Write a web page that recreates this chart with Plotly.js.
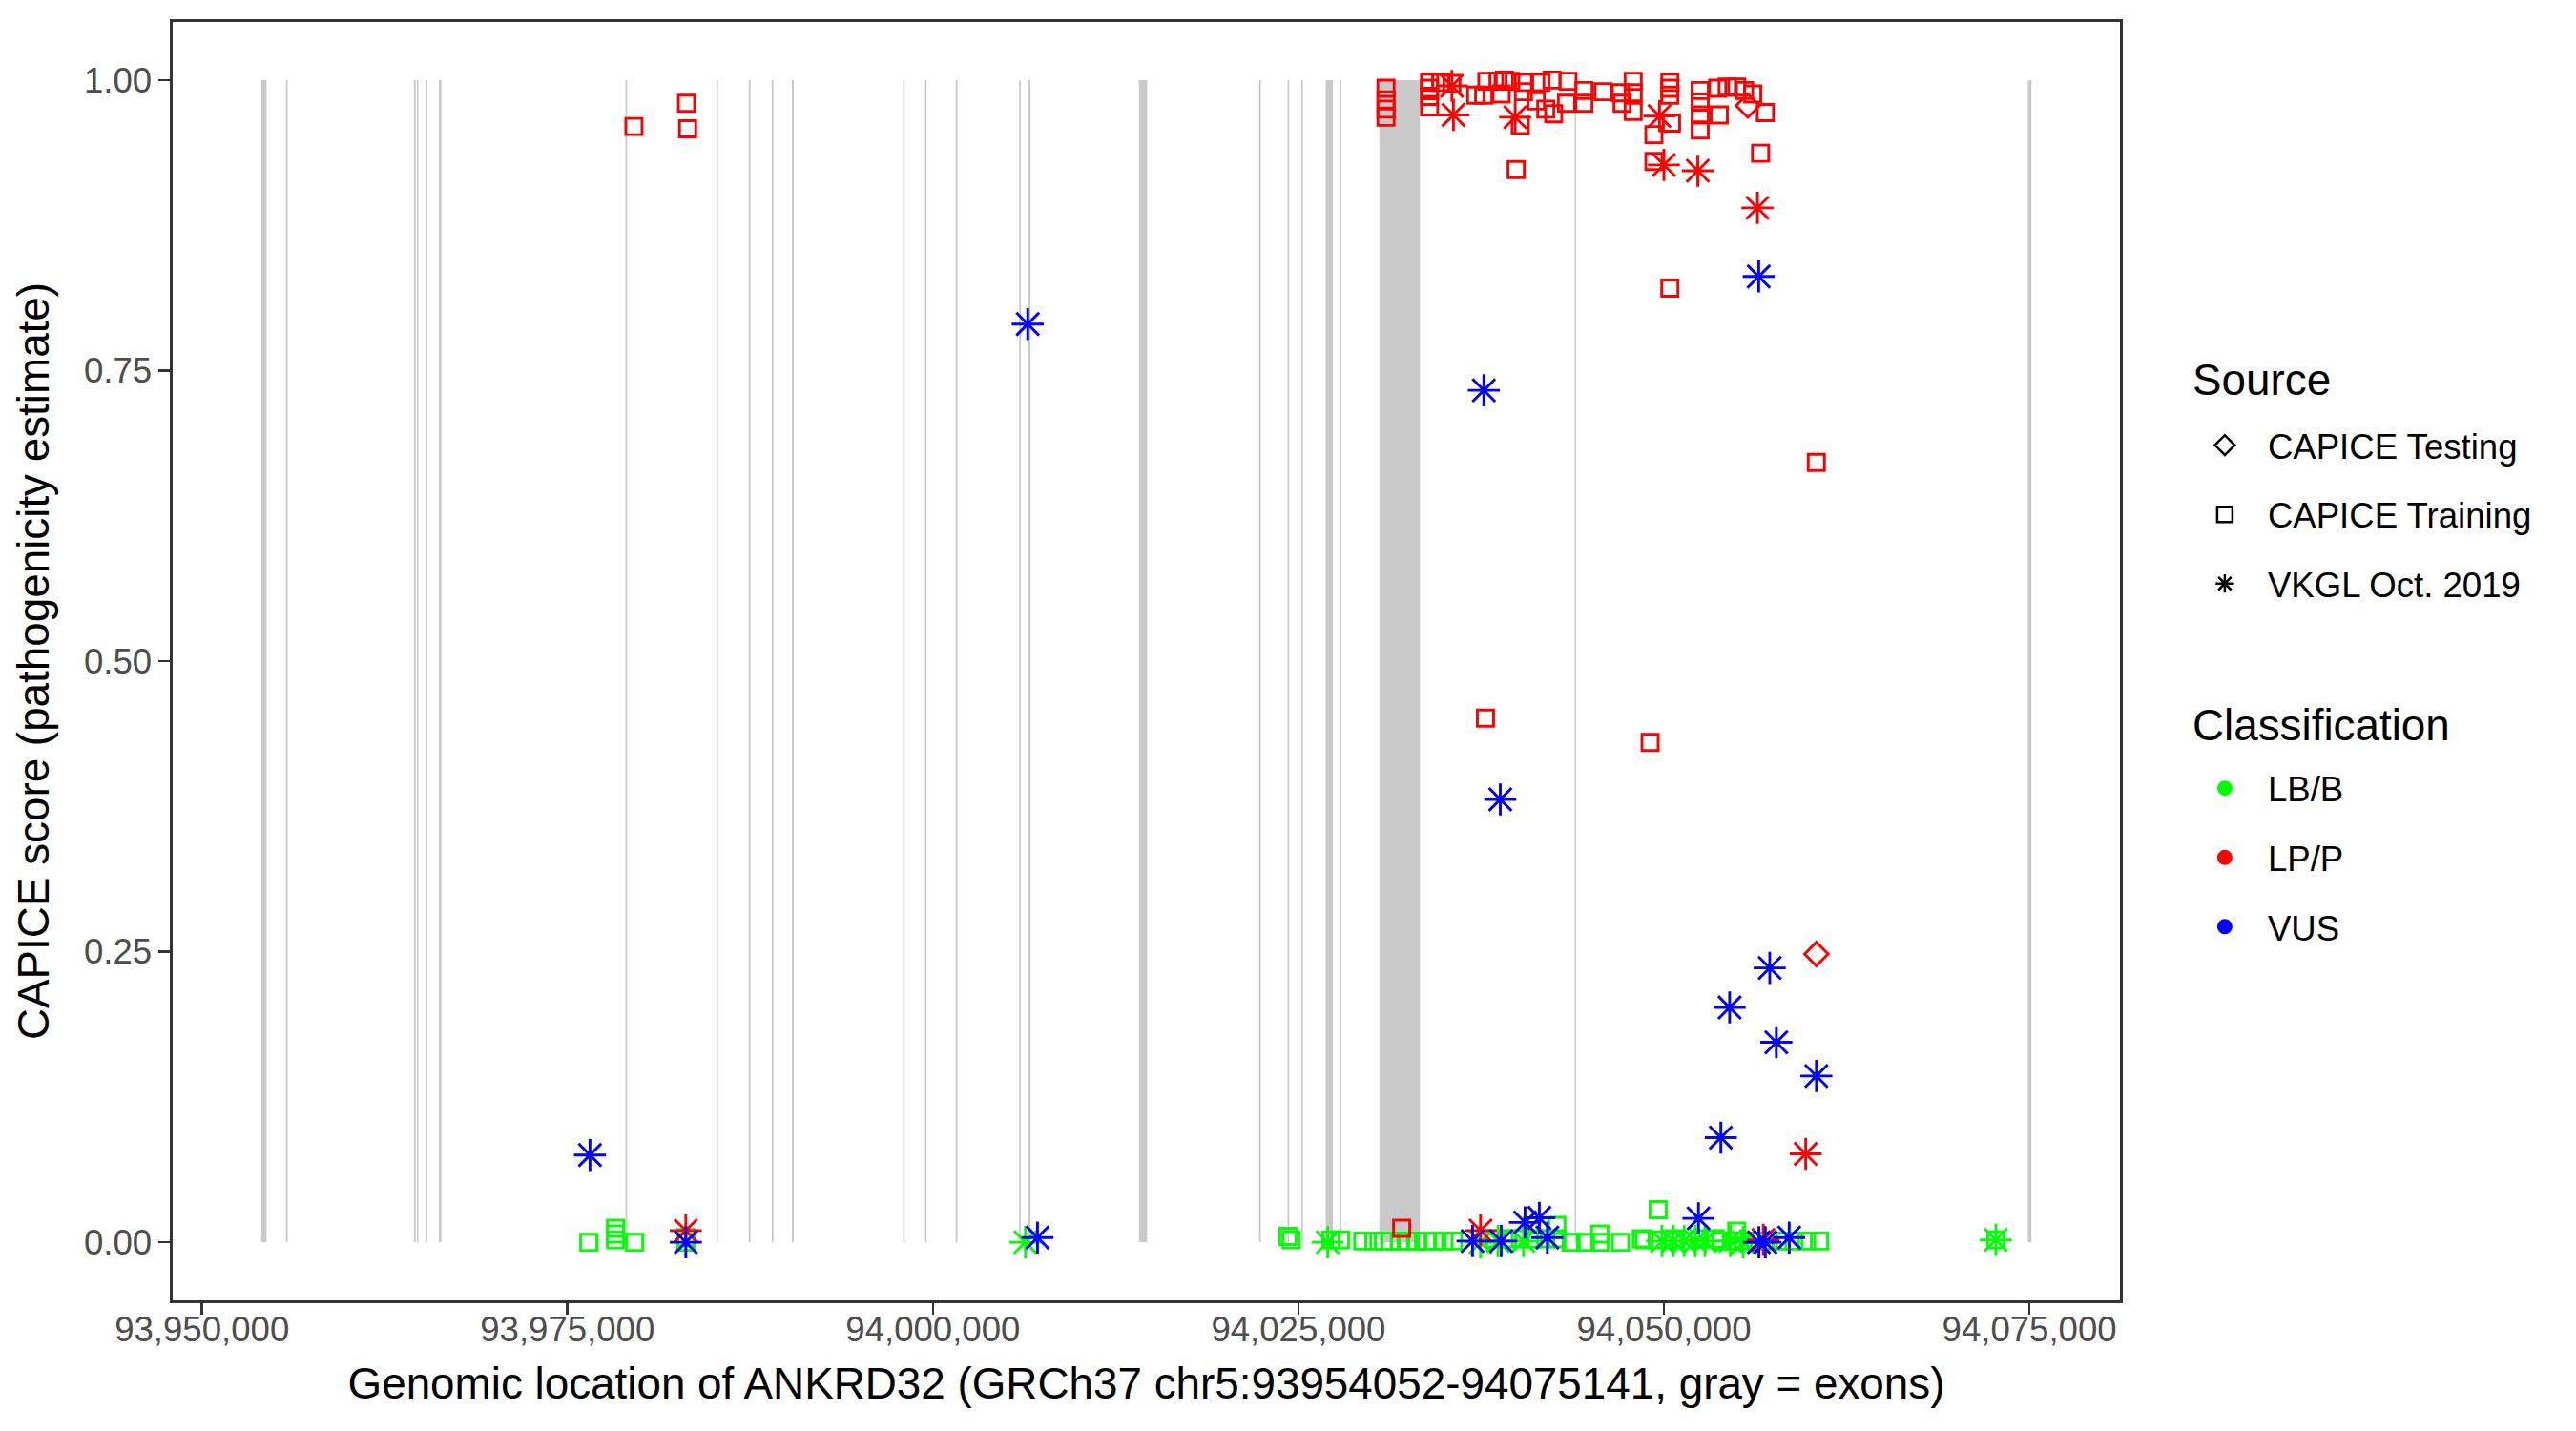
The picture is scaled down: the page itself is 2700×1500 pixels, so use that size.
<!DOCTYPE html>
<html>
<head>
<meta charset="utf-8">
<script src="https://cdn.plot.ly/plotly-3.0.1.min.js"></script>
<style>html,body{margin:0;padding:0;background:#fff;}#chart{width:2700px;height:1500px;}</style>
</head>
<body>
<div id="chart"></div>
<script>
// ---- Exons of ANKRD32 (gray bands) ----
const exonStart = [93954052,93955740,93964500,93964700,93965300,93966200,93978970,93985190,93987400,93988980,93990350,93997960,93999460,94001560,94005900,94006520,94014089,94022310,94024260,94025200,94026868,94027820,94030537,94043900,94074900];
const exonEnd   = [93954420,93955860,93964620,93964800,93965420,93966380,93979080,93985300,93987520,93989090,93990480,93998070,93999570,94001680,94006010,94006680,94014650,94022430,94024370,94025310,94027352,94027940,94033310,94043990,94075141];

// ---- CAPICE Training, LB/B ----
const trainLBB_pos = [93976457,93978286,93978286,93978286,93979592,93983100,93983100,94024283,94024500,94027222,94027875,94029397,94030163,94030817,94031254,94031907,94032449,94033102,94033755,94034298,94034951,94035604,94038436,94039306,94040174,94041050,94041918,94042682,94042682,94043661,94044641,94045620,94045620,94047031,94048450,94048664,94049539,94049604,94050700,94052400,94053500,94053890,94054765,94054980,94055420,94056290,94057150,94058030,94058898,94059767,94060642,94072704];
const trainLBB_score = [0.000,0.012,0.007,0.002,0.000,0.004,0.000,0.005,0.002,0.002,0.002,0.001,0.001,0.001,0.001,0.001,0.001,0.001,0.001,0.001,0.001,0.001,0.003,0.003,0.003,0.003,0.003,0.003,0.0145,0.000,0.000,0.000,0.007,0.000,0.003,0.002,0.002,0.028,0.003,0.003,0.003,0.001,0.001,0.0096,0.001,0.001,0.001,0.001,0.001,0.001,0.001,0.002];

// ---- CAPICE Training, LP/P ----
const trainLPP_pos = [93979546,93983145,93983220,94030991,94030991,94030991,94030991,94033970,94033970,94033970,94033970,94035499,94034733,94037131,94037673,94037889,94038653,94039091,94039522,94038870,94039893,94040174,94040393,94040393,94041581,94042345,94043439,94041265,94041918,94042460,94043334,94044530,94044530,94045836,94047031,94047142,94047900,94047900,94047900,94049317,94049317,94050408,94050408,94050408,94050519,94052480,94052480,94052480,94052480,94053786,94053675,94054328,94054980,94055522,94056071,94056940,94056613,94050405,94037794,94049054,94060427,94032059];
const trainLPP_score = [0.960,0.980,0.958,0.993,0.983,0.975,0.968,0.998,0.993,0.986,0.977,0.997,0.998,0.987,0.987,0.999,0.999,1.000,0.999,0.988,0.923,0.961,0.998,0.990,0.998,1.000,0.999,0.982,0.975,0.971,0.980,0.991,0.980,0.990,0.989,0.980,0.999,0.989,0.973,0.953,0.930,0.998,0.993,0.987,0.963,0.991,0.981,0.970,0.957,0.970,0.993,0.994,0.994,0.991,0.988,0.972,0.937,0.821,0.451,0.430,0.671,0.012];

// ---- CAPICE Testing, LP/P ----
const testLPP_pos = [94055743,94060427];
const testLPP_score = [0.978,0.248];

// ---- VKGL Oct. 2019, LB/B ----
const vkglLBB_pos = [94006323,94027007,94037458,94038653,94040393,94049866,94050624,94051387,94052151,94052804,94054545,94055420,94072704];
const vkglLBB_score = [0.000,0.000,0.000,0.001,0.001,0.001,0.001,0.001,0.001,0.001,0.001,0.000,0.002];

// ---- VKGL Oct. 2019, LP/P ----
const vkglLPP_pos = [94035603,94035499,94039828,94049700,94050000,94052320,94056400,94059700,94037458,93983094,94056800];
const vkglLPP_score = [0.970,0.995,0.968,0.969,0.927,0.922,0.890,0.076,0.010,0.010,0.002];

// ---- VKGL Oct. 2019, VUS ----
const vkglVUS_pos = [93976541,93983100,94006486,94007152,94037682,94038808,94056486,94057240,94054496,94057690,94060430,94053896,94036910,94038870,94040500,94041480,94042027,94052367,94056500,94056940,94058570];
const vkglVUS_score = [0.075,0.000,0.790,0.004,0.733,0.381,0.831,0.236,0.202,0.172,0.143,0.090,0.001,0.001,0.017,0.021,0.004,0.0205,0.000,0.000,0.004];

// ---- Axis ticks ----
const xTickVals = [93950000,93975000,94000000,94025000,94050000,94075000];
const xTickText = ['93,950,000','93,975,000','94,000,000','94,025,000','94,050,000','94,075,000'];
const yTickVals = [0,0.25,0.5,0.75,1];
const yTickText = ['0.00','0.25','0.50','0.75','1.00'];

// ---- Legend categories ----
const sourceNames = ['CAPICE Testing','CAPICE Training','VKGL Oct. 2019'];
const classNames = ['LB/B','LP/P','VUS'];
const legendTitles = ['Source','Classification'];

const GREEN = '#00FF00', RED = '#FF0000', BLUE = '#0000FF';
const FONT = 'Liberation Sans, Arial, Helvetica, sans-serif';
const SQ = 17, DI = 19, AS = 28, LW = 2.9;

function pts(x, y, symbol, color, size) {
  return {
    type: 'scatter', mode: 'markers', x: x, y: y, showlegend: false, hoverinfo: 'x+y',
    marker: {symbol: symbol, size: size, color: color, line: {color: color, width: LW}}
  };
}

const traces = [
  pts(trainLBB_pos, trainLBB_score, 'square-open', GREEN, SQ),
  pts(vkglLBB_pos, vkglLBB_score, 'asterisk-open', GREEN, AS),
  pts(trainLPP_pos, trainLPP_score, 'square-open', RED, SQ),
  pts(testLPP_pos, testLPP_score, 'diamond-open', RED, DI),
  pts(vkglLPP_pos, vkglLPP_score, 'asterisk-open', RED, AS),
  pts(vkglVUS_pos, vkglVUS_score, 'asterisk-open', BLUE, AS)
];

// legend-only traces
const srcSymbols = ['diamond-open','square-open','asterisk-open'];
const srcSizes = [17, 16, 20];
sourceNames.forEach((n, i) => {
  traces.push({type:'scatter', mode:'markers', x:[null], y:[null], name:n, legend:'legend',
    legendgroup:'s'+i, showlegend:true,
    marker:{symbol:srcSymbols[i], size:srcSizes[i], color:'#000000', line:{color:'#000000', width:2.5}}});
});
const clsColors = [GREEN, RED, BLUE];
classNames.forEach((n, i) => {
  traces.push({type:'scatter', mode:'markers', x:[null], y:[null], name:n, legend:'legend2',
    legendgroup:'c'+i, showlegend:true,
    marker:{symbol:'circle', size:20, color:clsColors[i]}});
});

const shapes = exonStart.map((s, i) => ({
  type:'rect', xref:'x', yref:'y', x0:s, x1:exonEnd[i], y0:0, y1:1,
  fillcolor:'#C9C9C9', line:{width:0}, layer:'below'
}));

const xPad = (exonEnd[exonEnd.length-1] - exonStart[0]) * 0.05;

const legendCommon = {
  xanchor:'left', yanchor:'top', bgcolor:'rgba(0,0,0,0)', borderwidth:0,
  font:{family:FONT, size:36.6, color:'#000000'}, traceorder:'grouped', tracegroupgap:22,
  itemsizing:'trace', itemwidth:80
};

const layout = {
  width:2700, height:1500,
  margin:{l:181, r:478, t:23, b:137},
  paper_bgcolor:'#FFFFFF', plot_bgcolor:'#FFFFFF',
  font:{family:FONT, color:'#000000'},
  xaxis:{
    range:[exonStart[0]-xPad, exonEnd[exonEnd.length-1]+xPad],
    tickmode:'array', tickvals:xTickVals, ticktext:xTickText,
    showgrid:false, zeroline:false,
    showline:true, mirror:true, linecolor:'#333333', linewidth:2.6,
    ticks:'outside', ticklen:12, tickwidth:2.6, tickcolor:'#333333',
    ticklabelstandoff:-16,
    tickfont:{family:FONT, size:36.6, color:'#4D4D4D'},
    title:{text:'Genomic location of ANKRD32 (GRCh37 chr5:93954052-94075141, gray = exons)',
      font:{family:FONT, size:45.8, color:'#000000'}, standoff:22}
  },
  yaxis:{
    range:[-0.05, 1.05],
    tickmode:'array', tickvals:yTickVals, ticktext:yTickText,
    showgrid:false, zeroline:false,
    showline:true, mirror:true, linecolor:'#333333', linewidth:2.6,
    ticks:'outside', ticklen:12, tickwidth:2.6, tickcolor:'#333333',
    tickfont:{family:FONT, size:36.6, color:'#4D4D4D'},
    title:{text:'CAPICE score (pathogenicity estimate)',
      font:{family:FONT, size:45.8, color:'#000000'}, standoff:22}
  },
  shapes:shapes,
  legend:Object.assign({}, legendCommon, {x:1.0318, y:0.6916}),
  legend2:Object.assign({}, legendCommon, {x:1.0318, y:0.4232}),
  annotations:[
    {xref:'paper', yref:'paper', x:1.0363, y:0.7201, xanchor:'left', yanchor:'middle', showarrow:false,
     text:legendTitles[0], font:{family:FONT, size:45.8, color:'#000000'}},
    {xref:'paper', yref:'paper', x:1.0363, y:0.45, xanchor:'left', yanchor:'middle', showarrow:false,
     text:legendTitles[1], font:{family:FONT, size:45.8, color:'#000000'}}
  ],
  showlegend:true
};

Plotly.newPlot('chart', traces, layout, {staticPlot:true, displayModeBar:false});
</script>
</body>
</html>
